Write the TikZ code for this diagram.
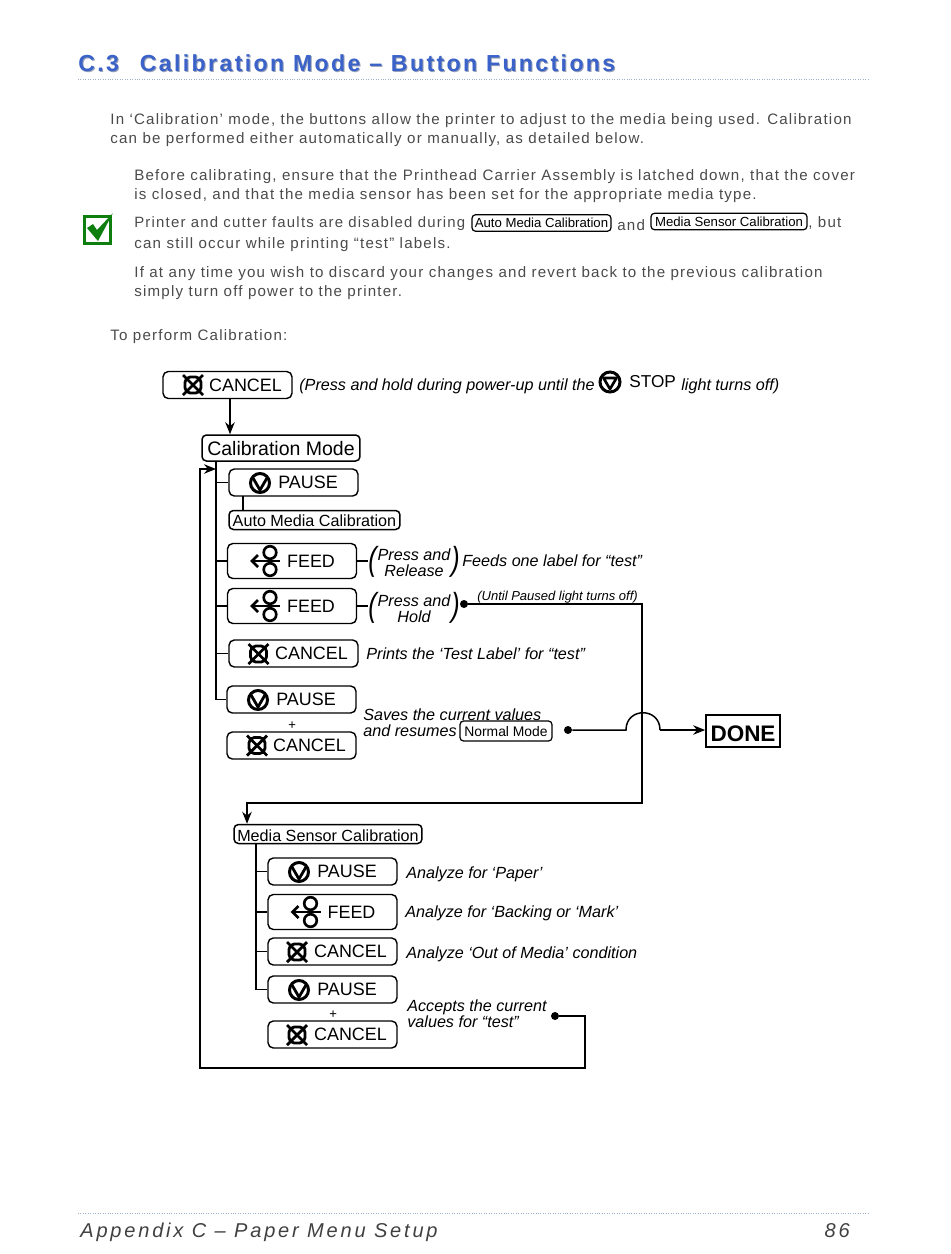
\documentclass[tikz,border=0pt]{standalone}
\usepackage{fontspec}
\setmainfont{Liberation Sans}
\newfontfamily\bodyfont[LetterSpace=8]{Liberation Sans}
\newfontfamily\titlefont[LetterSpace=10]{Liberation Sans}
\newfontfamily\footfont[LetterSpace=14]{Liberation Sans}
\usepackage{xcolor}
\definecolor{titleblue}{HTML}{3A62C8}
\definecolor{titleshade}{HTML}{9AA3B8}
\definecolor{bodygray}{HTML}{4A4A4A}
\definecolor{rulegray}{HTML}{9DB0CC}
\definecolor{checkgreen}{HTML}{0E7F0E}
\usetikzlibrary{
  positioning,
  arrows.meta
}

\begin{document}
\begin{tikzpicture}[
  x=0.02cm, y=-0.02cm,
  >={Stealth[length=2.4mm,width=1.9mm]},
  body/.style={anchor=base west, inner sep=0pt, text=bodygray,
    font=\bodyfont\fontsize{8.6}{10}\selectfont},
  note/.style={anchor=base west, inner sep=0pt,
    font=\itshape\fontsize{9.2}{9.2}\selectfont},
  notetwo/.style={anchor=west, inner sep=0pt, align=left,
    font=\itshape\fontsize{9.2}{9.2}\selectfont},
  pressnote/.style={inner sep=0pt, align=center,
    font=\itshape\fontsize{9.2}{9.2}\selectfont},
  bigparen/.style={inner sep=0pt, font=\itshape\fontsize{19}{19}\selectfont},
  btn/.style={
    rectangle, rounded corners=3pt, draw, line width=0.8pt, inner sep=0pt,
    minimum width=2.58cm, minimum height=0.54cm,
    font=\fontsize{10.2}{12}\selectfont
  },
  tallbtn/.style={btn, minimum height=0.7cm},
  modebox/.style={
    rectangle, rounded corners=2.5pt, draw, line width=0.85pt, inner sep=0pt,
    minimum height=0.38cm, text depth=0pt, text height=7.6pt,
    font=\fontsize{9.2}{11}\selectfont
  },
  inlinebox/.style={
    rectangle, rounded corners=2pt, draw, line width=0.7pt, inner sep=0pt,
    minimum height=0.33cm, font=\fontsize{7.5}{9}\selectfont
  },
  flow/.style={line width=0.85pt},
  dot/.style={circle, fill, inner sep=0pt, minimum size=0.16cm},
  pauseicon/.pic={
    \draw[line width=1.7pt] (0,0) circle[radius=9.5];
    \draw[line width=1.6pt, line join=round] (-7,-5) -- (0,7) -- (7,-5);
  },
  stopicon/.pic={
    \draw[line width=1.7pt] (0,0) circle[radius=10];
    \draw[line width=1.5pt, line join=round] (-6.5,-4) -- (6.5,-4) -- (0,7) -- cycle;
  },
  cancelicon/.pic={
    \draw[line width=1.6pt, rounded corners=3pt] (-8,-8) rectangle (8,8);
    \draw[line width=1.6pt] (-10,-10) -- (10,10) (-10,10) -- (10,-10);
  },
  feedicon/.pic={
    \draw[line width=1.5pt] (0,-8.5) circle[radius=6.3] (0,8.5) circle[radius=6.3];
    \draw[line width=1.5pt] (-17,0) -- (10,0);
    \draw[line width=1.5pt] (-12,-6) -- (-18,0) -- (-12,6);
  }
]
\useasboundingbox (0,0) rectangle (950,1254);

% heading and footer
\node[anchor=base west, inner sep=0pt, text=titleshade,
  font=\titlefont\bfseries\fontsize{13.2}{16}\selectfont] (titleback) at (79,72.5)
  {C.3\hspace{0.9em}Calibration Mode – Button Functions};
\node[anchor=base west, inner sep=0pt, text=titleblue,
  font=\titlefont\bfseries\fontsize{13.2}{16}\selectfont] (title) at (78,71.5)
  {C.3\hspace{0.9em}Calibration Mode – Button Functions};
\draw[rulegray, densely dotted, line width=0.4pt] (78,79) -- (868,79);
\draw[rulegray, densely dotted, line width=0.4pt] (78,1213) -- (868,1213);
\node[anchor=base west, inner sep=0pt, text=black!75,
  font=\footfont\itshape\fontsize{11.4}{13}\selectfont] (foot) at (80,1237)
  {Appendix C – Paper Menu Setup};
\node[anchor=base east, inner sep=0pt, text=black!75,
  font=\footfont\itshape\fontsize{11.4}{13}\selectfont] (pagenum) at (850,1237) {86};

% text block
\node[body] (introa) at (110,124) {In ‘Calibration’ mode, the buttons allow the printer to adjust to the media being used. Calibration};
\node[body] (introb) at (110,143) {can be performed either automatically or manually, as detailed below.};
\node[body] (beforea) at (134,180) {Before calibrating, ensure that the Printhead Carrier Assembly is latched down, that the cover};
\node[body] (beforeb) at (134,199) {is closed, and that the media sensor has been set for the appropriate media type.};
\node[body, font=\bodyfont\fontsize{8.5}{10}\selectfont] (faulta) at (134,227) {Printer and cutter faults are disabled during};
\node[inlinebox, minimum width=2.78cm] (autoinline) at (541.5,223) {Auto Media Calibration};
\node[body] (faultand) at (617,230) {and};
\node[inlinebox, minimum width=3.12cm] (mediainline) at (729,221.5) {Media Sensor Calibration};
\node[body] (faultbut) at (808,227) {, but};
\node[body] (faultb) at (134,248) {can still occur while printing “test” labels.};
\node[body] (discarda) at (134,277) {If at any time you wish to discard your changes and revert back to the previous calibration};
\node[body] (discardb) at (134,296) {simply turn off power to the printer.};
\node[body] (toperform) at (110,340) {To perform Calibration:};

% green check
\node[draw=checkgreen, line width=1.7pt, minimum size=0.53cm, inner sep=0pt] (checkbox) at (97.5,230) {};
\fill[checkgreen] (87,228) -- (93,224) -- (97,230) -- (113,213) -- (98,241) -- cycle;

% start
\node[btn] (cancelstart) at (227.5,385) {\hspace*{0.72cm}CANCEL};
\path (cancelstart) ++(-34.5,0) pic {cancelicon};
\node[note] (holdnote) at (299,390) {(Press and hold during power-up until the};
\path (610,382) pic {stopicon};
\node[anchor=base west, inner sep=0pt, font=\fontsize{9.8}{12}\selectfont] (stoptext) at (629,387) {STOP};
\node[note] (holdend) at (681,390) {light turns off)};

% calibration mode
\node[modebox, minimum width=3.16cm, minimum height=0.52cm, text height=8pt, font=\fontsize{11.1}{13}\selectfont] (calmode) at (281,448) {Calibration Mode};
\node[btn] (pausea) at (293.5,482.5) {\hspace*{0.58cm}PAUSE};
\path (pausea) ++(-33.5,0.5) pic {pauseicon};
\node[modebox, minimum width=3.42cm] (autocal) at (314.5,520) {Auto Media Calibration};
\node[tallbtn] (feeda) at (292,561) {\hspace*{0.76cm}FEED};
\path (feeda) ++(-22,0) pic {feedicon};
\node[bigparen, anchor=west] (parenaleft) at (368,562) {\scalebox{0.75}[1]{(}};
\node[pressnote] (pressa) at (414,563) {Press and\\Release};
\node[bigparen, anchor=west] (parenaright) at (451,562) {\scalebox{0.75}[1]{)}};
\node[note] (feednote) at (462,566) {Feeds one label for “test”};
\node[tallbtn] (feedb) at (292,606) {\hspace*{0.76cm}FEED};
\path (feedb) ++(-22,0) pic {feedicon};
\node[bigparen, anchor=west] (parenbleft) at (368,608) {\scalebox{0.75}[1]{(}};
\node[pressnote] (pressb) at (414,609) {Press and\\Hold};
\node[bigparen, anchor=west] (parenbright) at (451,608) {\scalebox{0.75}[1]{)}};
\node[dot] (holddot) at (464,604) {};
\node[anchor=base west, inner sep=0pt, font=\itshape\fontsize{7.4}{9}\selectfont] (untilnote) at (477,600) {(Until Paused light turns off)};
\node[btn] (cancela) at (293.5,653.5) {\hspace*{0.72cm}CANCEL};
\path (cancela) ++(-35,0.5) pic {cancelicon};
\node[note] (printnote) at (366,659) {Prints the ‘Test Label’ for “test”};
\node[btn] (pauseb) at (291.5,699.5) {\hspace*{0.58cm}PAUSE};
\path (pauseb) ++(-33.5,0.5) pic {pauseicon};
\node[inner sep=0pt, font=\itshape\fontsize{7.5}{9}\selectfont] (plusa) at (292,726) {+};
\node[btn] (cancelb) at (291.5,745.5) {\hspace*{0.72cm}CANCEL};
\path (cancelb) ++(-34.5,0) pic {cancelicon};
\node[notetwo] (savenote) at (363,723) {Saves the current values\\and resumes};
\node[inlinebox, minimum width=1.84cm, minimum height=0.4cm, text height=6.8pt, text depth=0pt, font=\fontsize{7.9}{9}\selectfont] (normalmode) at (506,731) {Normal Mode};
\node[dot] (savedot) at (568,730) {};
\node[draw, line width=1pt, inner sep=0pt, minimum width=1.48cm, minimum height=0.64cm,
  text height=11.4pt, text depth=0pt,
  font=\bfseries\fontsize{12.8}{15}\selectfont] (done) at (743,731) {DONE};

% media sensor calibration
\node[modebox, minimum width=3.76cm, text height=8pt] (mediacal) at (328,834) {Media Sensor Calibration};
\node[btn] (pausec) at (332.5,871.5) {\hspace*{0.58cm}PAUSE};
\path (pausec) ++(-33.5,0.5) pic {pauseicon};
\node[note] (papernote) at (406,878) {Analyze for ‘Paper’};
\node[tallbtn] (feedc) at (332.5,912) {\hspace*{0.76cm}FEED};
\path (feedc) ++(-22,0) pic {feedicon};
\node[note] (backnote) at (405,917) {Analyze for ‘Backing or ‘Mark’};
\node[btn] (cancelc) at (332.5,951.5) {\hspace*{0.72cm}CANCEL};
\path (cancelc) ++(-35.5,0.5) pic {cancelicon};
\node[note] (outnote) at (406,958) {Analyze ‘Out of Media’ condition};
\node[btn] (paused) at (332.5,989.5) {\hspace*{0.58cm}PAUSE};
\path (paused) ++(-33.5,0.5) pic {pauseicon};
\node[inner sep=0pt, font=\itshape\fontsize{7.5}{9}\selectfont] (plusb) at (333,1015) {+};
\node[btn] (canceld) at (332.5,1034.5) {\hspace*{0.72cm}CANCEL};
\path (canceld) ++(-35.5,0.5) pic {cancelicon};
\node[notetwo] (acceptnote) at (407,1014) {Accepts the current\\values for “test”};
\node[dot] (acceptdot) at (555,1016) {};

% turning points
\coordinate (trunka) at (216,461);
\coordinate (trunkb) at (256,844);
\coordinate (startdrop) at (230,398);
\coordinate (jumpin) at (626,730);
\coordinate (jumpout) at (660,730);
\coordinate (holdcorner) at (642,604);
\coordinate (holdlow) at (642,803);
\coordinate (medialead) at (247,803);
\coordinate (returnright) at (585,1068);
\coordinate (returnleft) at (200,1068);
\coordinate (returntop) at (200,469);
\coordinate (returnend) at (216,469);

\draw[flow, ->] (startdrop) -- (startdrop |- calmode.north);
\draw[flow] (trunka) |- (pauseb.west);
\draw[flow] (trunka |- pausea.west) -- (pausea.west);
\draw[flow] (trunka |- feeda.west) -- (feeda.west);
\draw[flow] (trunka |- feedb.west) -- (feedb.west);
\draw[flow] (trunka |- cancela.west) -- (cancela.west);
\draw[flow] (243,496) -- (243,511);
\draw[flow] (feeda.east) -- (parenaleft.west |- feeda.east);
\draw[flow] (feedb.east) -- (parenbleft.west |- feedb.east);
\draw[flow, ->] (holddot) -- (holdcorner) -- (holdlow) -- (medialead) -- (medialead |- mediacal.north);
\draw[flow] (savedot) -- (jumpin) .. controls (626,707) and (660,707) .. (jumpout);
\draw[flow, ->] (jumpout) -- (done.west |- jumpout);
\draw[flow] (trunkb) |- (paused.west);
\draw[flow] (trunkb |- pausec.west) -- (pausec.west);
\draw[flow] (trunkb |- feedc.west) -- (feedc.west);
\draw[flow] (trunkb |- cancelc.west) -- (cancelc.west);
\draw[flow, ->] (acceptdot) -| (returnright) -- (returnleft) -- (returntop) -- (returnend);

\end{tikzpicture}
\end{document}
